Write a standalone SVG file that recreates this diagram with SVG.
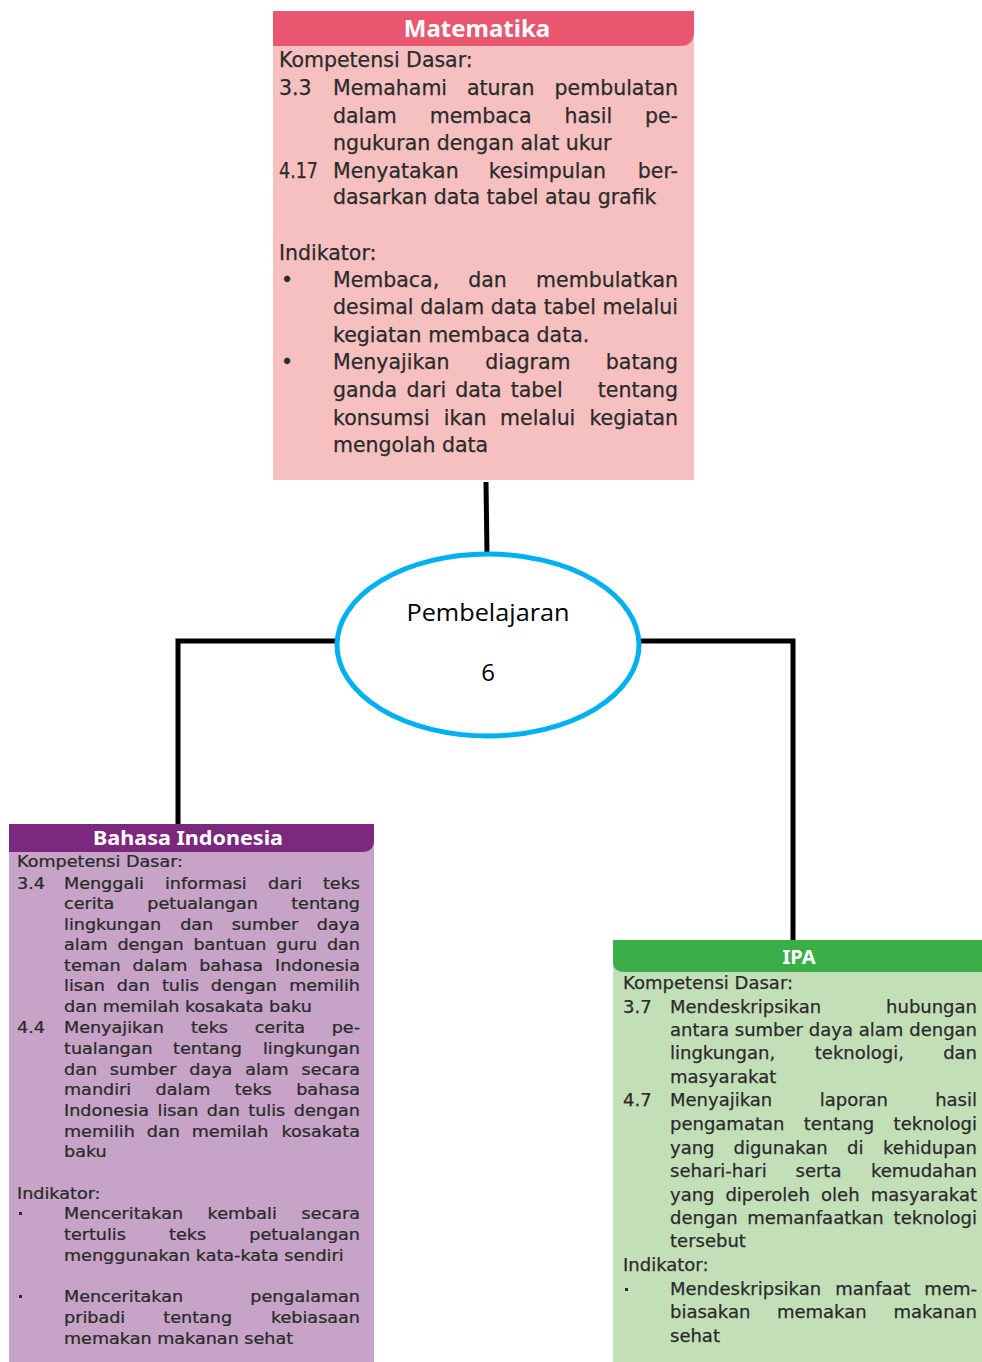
<svg xmlns="http://www.w3.org/2000/svg" width="982" height="1362" viewBox="0 0 982 1362">
<style>
.t{font-family:"DejaVu Sans","Noto Sans",sans-serif;fill:#2a2a2a;stroke:#2a2a2a;stroke-width:0.25}
.m{font-size:20.5px}
.b{font-size:16px}
.i{font-size:18px}
.r{text-anchor:end}
.h{font-family:"Noto Sans","Liberation Sans",sans-serif;font-weight:bold;fill:#fff;text-anchor:middle}
.c{stroke:#000;stroke-width:5;fill:none}
.e{font-family:"Open Sans","Noto Sans",sans-serif;font-size:24px;fill:#000;text-anchor:middle}
.d{fill:#2a2a2a}
</style>
<rect width="982" height="1362" fill="#fff"/>
<g id="connectors">
<line class="c" x1="486" y1="482" x2="487" y2="555"/>
<polyline class="c" points="337,641 178,641 178,825"/>
<polyline class="c" points="640,641 793,641 793,941"/>
</g>
<g id="matematika">
<rect x="273" y="11" width="421" height="469" fill="#f6c0c0"/>
<path d="M273,11 H694 V32 Q694,46 680,46 H273 Z" fill="#e9566f"/>
<text class="h" x="477" y="37" font-size="24">Matematika</text>
<g class="t m">
<text x="279" y="67">Kompetensi Dasar:</text>
<text x="279" y="95">3.3</text>
<text y="95"><tspan x="333">Memahami</tspan><tspan x="467">aturan</tspan><tspan x="678" class="r">pembulatan</tspan></text>
<text y="123"><tspan x="333">dalam</tspan><tspan x="429.7">membaca</tspan><tspan x="564.5">hasil</tspan><tspan x="678" class="r">pe-</tspan></text>
<text x="333" y="150">ngukuran dengan alat ukur</text>
<text x="279" y="178" textLength="39" lengthAdjust="spacingAndGlyphs">4.17</text>
<text y="178"><tspan x="333">Menyatakan</tspan><tspan x="488.7">kesimpulan</tspan><tspan x="678" class="r">ber-</tspan></text>
<text x="333" y="204">dasarkan data tabel atau grafik</text>
<text x="279" y="260">Indikator:</text>
<text x="281" y="287">•</text>
<text y="287"><tspan x="333">Membaca,</tspan><tspan x="468.2">dan</tspan><tspan x="678" class="r">membulatkan</tspan></text>
<text x="333" y="314" textLength="345" lengthAdjust="spacing">desimal dalam data tabel melalui</text>
<text x="333" y="342">kegiatan membaca data.</text>
<text x="281" y="369">•</text>
<text y="369"><tspan x="333">Menyajikan</tspan><tspan x="485.2">diagram</tspan><tspan x="678" class="r">batang</tspan></text>
<text y="397"><tspan x="333">ganda</tspan><tspan x="406.4">dari</tspan><tspan x="455.3">data</tspan><tspan x="510.7">tabel</tspan><tspan x="678" class="r">tentang</tspan></text>
<text y="425"><tspan x="333">konsumsi</tspan><tspan x="443.7">ikan</tspan><tspan x="500.1">melalui</tspan><tspan x="678" class="r">kegiatan</tspan></text>
<text x="333" y="452">mengolah data</text>
</g>
</g>
<g id="pembelajaran">
<ellipse cx="488" cy="645" rx="151" ry="91" fill="#fff" stroke="#00b0f0" stroke-width="5"/>
<text class="e" x="488" y="621" textLength="163" lengthAdjust="spacingAndGlyphs">Pembelajaran</text>
<text class="e" x="488" y="681">6</text>
</g>
<g id="bahasa">
<rect x="9" y="824" width="365" height="538" fill="#c6a3c7"/>
<path d="M9,824 H374 V840 Q374,852 362,852 H9 Z" fill="#7c287e"/>
<text class="h" x="188" y="845" font-size="20" textLength="190" lengthAdjust="spacingAndGlyphs">Bahasa Indonesia</text>
<rect class="d" x="19" y="1212" width="3" height="3"/>
<rect class="d" x="19" y="1295" width="3" height="3"/>
<g class="t b" transform="scale(1.1,1)">
<text x="15.45" y="867">Kompetensi Dasar:</text>
<text x="15.45" y="889">3.4</text>
<text y="889"><tspan x="58.18">Menggali</tspan><tspan x="149.93">informasi</tspan><tspan x="243.63">dari</tspan><tspan x="327.27" class="r">teks</tspan></text>
<text y="909"><tspan x="58.18">cerita</tspan><tspan x="133.91">petualangan</tspan><tspan x="327.27" class="r">tentang</tspan></text>
<text y="930"><tspan x="58.18">lingkungan</tspan><tspan x="163.78">dan</tspan><tspan x="210.63">sumber</tspan><tspan x="327.27" class="r">daya</tspan></text>
<text y="950"><tspan x="58.18">alam</tspan><tspan x="106.72">dengan</tspan><tspan x="175.87">bantuan</tspan><tspan x="251.24">guru</tspan><tspan x="327.27" class="r">dan</tspan></text>
<text y="971"><tspan x="58.18">teman</tspan><tspan x="120.55">dalam</tspan><tspan x="181.08">bahasa</tspan><tspan x="327.27" class="r">Indonesia</tspan></text>
<text y="991"><tspan x="58.18">lisan</tspan><tspan x="106.21">dan</tspan><tspan x="147.17">tulis</tspan><tspan x="191.67">dengan</tspan><tspan x="327.27" class="r">memilih</tspan></text>
<text x="58.18" y="1012">dan memilah kosakata baku</text>
<text x="15.45" y="1033">4.4</text>
<text y="1033"><tspan x="58.18">Menyajikan</tspan><tspan x="173.59">teks</tspan><tspan x="231.53">cerita</tspan><tspan x="327.27" class="r">pe-</tspan></text>
<text y="1054"><tspan x="58.18">tualangan</tspan><tspan x="157.34">tentang</tspan><tspan x="327.27" class="r">lingkungan</tspan></text>
<text y="1075"><tspan x="58.18">dan</tspan><tspan x="99.86">sumber</tspan><tspan x="172.07">daya</tspan><tspan x="222.89">alam</tspan><tspan x="327.27" class="r">secara</tspan></text>
<text y="1095"><tspan x="58.18">mandiri</tspan><tspan x="141.46">dalam</tspan><tspan x="213.38">teks</tspan><tspan x="327.27" class="r">bahasa</tspan></text>
<text y="1116"><tspan x="58.18">Indonesia</tspan><tspan x="143.2">lisan</tspan><tspan x="188.01">dan</tspan><tspan x="225.75">tulis</tspan><tspan x="327.27" class="r">dengan</tspan></text>
<text y="1137"><tspan x="58.18">memilih</tspan><tspan x="133.43">dan</tspan><tspan x="174.3">memilah</tspan><tspan x="327.27" class="r">kosakata</tspan></text>
<text x="58.18" y="1157">baku</text>
<text x="15.45" y="1199">Indikator:</text>
<text y="1219"><tspan x="58.18">Menceritakan</tspan><tspan x="188.74">kembali</tspan><tspan x="327.27" class="r">secara</tspan></text>
<text y="1240"><tspan x="58.18">tertulis</tspan><tspan x="153.67">teks</tspan><tspan x="327.27" class="r">petualangan</tspan></text>
<text x="58.18" y="1261">menggunakan kata-kata sendiri</text>
<text y="1302"><tspan x="58.18">Menceritakan</tspan><tspan x="327.27" class="r">pengalaman</tspan></text>
<text y="1323"><tspan x="58.18">pribadi</tspan><tspan x="148.48">tentang</tspan><tspan x="327.27" class="r">kebiasaan</tspan></text>
<text x="58.18" y="1344">memakan makanan sehat</text>
</g>
</g>
<g id="ipa">
<rect x="613" y="940" width="369" height="422" fill="#c3dfb8"/>
<path d="M613,940 H982 V972 H625 Q613,972 613,962 Z" fill="#3bae4a"/>
<text class="h" x="799" y="964" font-size="20">IPA</text>
<rect class="d" x="625" y="1288" width="3" height="3"/>
<g class="t i">
<text x="623" y="989">Kompetensi Dasar:</text>
<text x="623" y="1013">3.7</text>
<text y="1013"><tspan x="670">Mendeskripsikan</tspan><tspan x="977" class="r">hubungan</tspan></text>
<text y="1036"><tspan x="670">antara</tspan><tspan x="734.8">sumber</tspan><tspan x="808.8">daya</tspan><tspan x="858.8">alam</tspan><tspan x="977" class="r">dengan</tspan></text>
<text y="1059"><tspan x="670">lingkungan,</tspan><tspan x="814.8">teknologi,</tspan><tspan x="977" class="r">dan</tspan></text>
<text x="670" y="1083">masyarakat</text>
<text x="623" y="1106">4.7</text>
<text y="1106"><tspan x="670">Menyajikan</tspan><tspan x="819.7">laporan</tspan><tspan x="977" class="r">hasil</tspan></text>
<text y="1130"><tspan x="670">pengamatan</tspan><tspan x="803.8">tentang</tspan><tspan x="977" class="r">teknologi</tspan></text>
<text y="1154"><tspan x="670">yang</tspan><tspan x="733.5">digunakan</tspan><tspan x="847">di</tspan><tspan x="977" class="r">kehidupan</tspan></text>
<text y="1177"><tspan x="670">sehari-hari</tspan><tspan x="795.5">serta</tspan><tspan x="977" class="r">kemudahan</tspan></text>
<text y="1201"><tspan x="670">yang</tspan><tspan x="725.4">diperoleh</tspan><tspan x="821.1">oleh</tspan><tspan x="977" class="r">masyarakat</tspan></text>
<text y="1224"><tspan x="670">dengan</tspan><tspan x="747.2">memanfaatkan</tspan><tspan x="977" class="r">teknologi</tspan></text>
<text x="670" y="1247">tersebut</text>
<text x="623" y="1271">Indikator:</text>
<text y="1295"><tspan x="670">Mendeskripsikan</tspan><tspan x="835.2">manfaat</tspan><tspan x="977" class="r">mem-</tspan></text>
<text y="1318"><tspan x="670">biasakan</tspan><tspan x="776.9">memakan</tspan><tspan x="977" class="r">makanan</tspan></text>
<text x="670" y="1342">sehat</text>
</g>
</g>
</svg>
